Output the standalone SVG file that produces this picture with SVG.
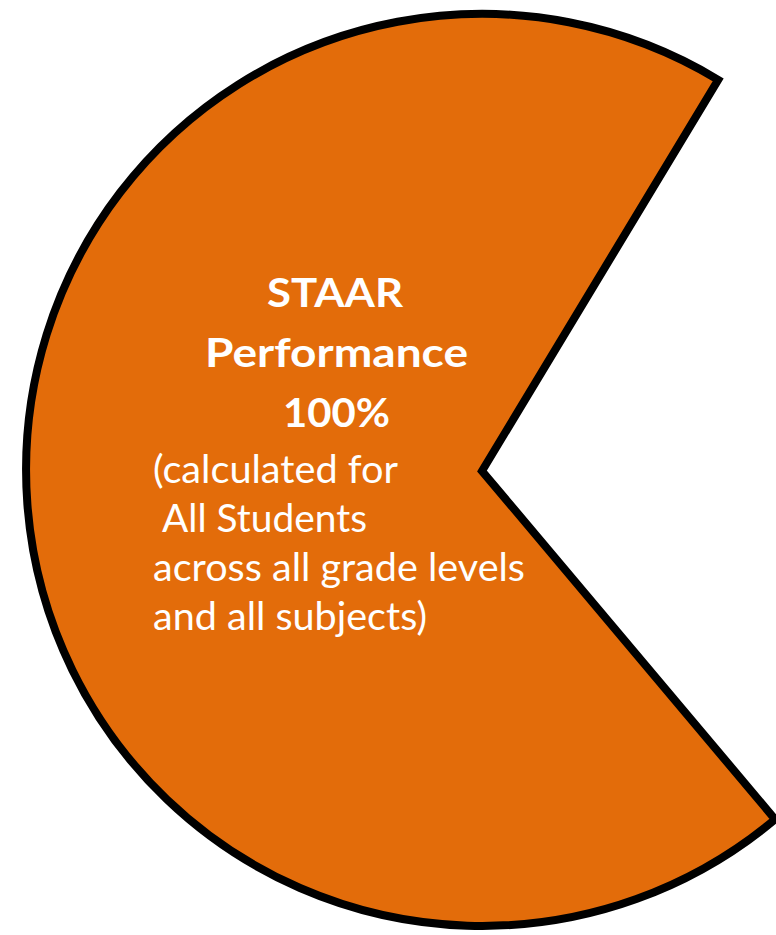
<svg xmlns="http://www.w3.org/2000/svg" width="776" height="935" viewBox="0 0 776 935">
  <style>
    .slice { fill: #E36C0A; stroke: #000000; stroke-width: 8; stroke-linejoin: miter; stroke-miterlimit: 10; }
    .title { font-family: Lato, "Open Sans", "Liberation Sans", sans-serif; font-weight: bold; font-size: 40px; fill: #FFFFFF; text-anchor: middle; }
    .body { font-family: Lato, "Open Sans", "Liberation Sans", sans-serif; font-weight: normal; font-size: 39px; fill: #FFFFFF; }
  </style>
  <rect x="0" y="0" width="776" height="935" fill="#FFFFFF"/>
  <g id="staar-performance">
    <path class="slice" d="M482,471 L718.2,79.8 A456,456 0 1,0 775.1,819.3 Z"/>
    <text class="title" x="335" y="307" textLength="136" lengthAdjust="spacingAndGlyphs">STAAR</text>
    <text class="title" x="336.5" y="367" textLength="263" lengthAdjust="spacingAndGlyphs">Performance</text>
    <text class="title" x="336.5" y="427" textLength="107" lengthAdjust="spacingAndGlyphs">100%</text>
    <text class="body" x="153" y="483" textLength="245" lengthAdjust="spacingAndGlyphs">(calculated for</text>
    <text class="body" x="162" y="532" textLength="205" lengthAdjust="spacingAndGlyphs">All Students</text>
    <text class="body" x="153" y="581" textLength="372" lengthAdjust="spacingAndGlyphs">across all grade levels</text>
    <text class="body" x="153" y="630" textLength="274" lengthAdjust="spacingAndGlyphs">and all subjects)</text>
  </g>
</svg>
